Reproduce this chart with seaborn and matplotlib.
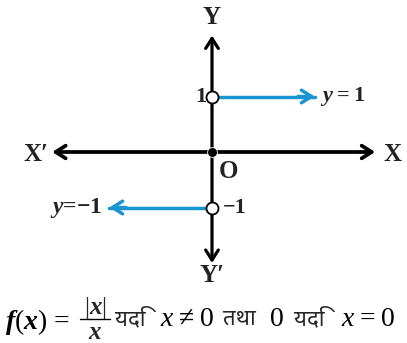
import numpy as np
import pandas as pd
import matplotlib
matplotlib.use("Agg")
import matplotlib.pyplot as plt
import seaborn as sns

# signum function pieces (open circles at x=0)
pos_x = [0, 1.85]
pos_y = [1, 1]
neg_x = [0, -1.85]
neg_y = [-1, -1]
hole_x = [0, 0]
hole_y = [1, -1]
tick_vals = [1, -1]
tick_labels = ["1", "\u22121"]
piece_labels = ["$\\mathbf{y}$\u2009=\u20091", "$\\mathbf{y}$=\u22121"]

sns.set_theme(style="white")
plt.rcParams['font.family'] = ['Liberation Serif', 'DejaVu Serif']
plt.rcParams['mathtext.fontset'] = 'custom'
plt.rcParams['mathtext.rm'] = 'Liberation Serif'
plt.rcParams['mathtext.it'] = 'Liberation Serif:italic'
plt.rcParams['mathtext.bf'] = 'Liberation Serif:bold:italic'

UNIT = 55.5  # pixels per unit


def P(px, py):
    # picture pixel -> data coords
    return (px - 212) / UNIT, (152 - py) / UNIT


blue = "#1996d0"
fig = plt.figure(figsize=(4.07, 3.43), dpi=100)
ax = fig.add_axes([0, 0, 1, 1])
ax.set_xlim(-212 / UNIT, 195 / UNIT)
ax.set_ylim(-191 / UNIT, 152 / UNIT)
ax.axis("off")

# axes with arrows
arrow_k = dict(arrowstyle="->,head_length=0.6,head_width=0.38", color="black", lw=2.7,
               shrinkA=0, shrinkB=0)
ax.annotate("", xy=(2.94, 0), xytext=(0, 0), arrowprops=arrow_k)
ax.annotate("", xy=(-2.88, 0), xytext=(0, 0), arrowprops=arrow_k)
ax.annotate("", xy=(0, 2.1), xytext=(0, 0), arrowprops=dict(arrow_k, lw=2.3))
ax.annotate("", xy=(0, -2.0), xytext=(0, 0), arrowprops=dict(arrow_k, lw=2.3))

# function pieces
df = pd.DataFrame({"x": pos_x + neg_x, "y": pos_y + neg_y,
                   "piece": ["pos", "pos", "neg", "neg"]})
sns.lineplot(data=df, x="x", y="y", units="piece", estimator=None, color=blue,
             lw=2.5, sort=False, ax=ax, legend=False)
blue_k = dict(arrowstyle="->,head_length=0.6,head_width=0.38", color=blue, lw=2.5,
              shrinkA=0, shrinkB=0)
ax.annotate("", xy=(pos_x[1], pos_y[1]), xytext=(pos_x[1] - 0.3, pos_y[1]), arrowprops=blue_k)
ax.annotate("", xy=(neg_x[1], neg_y[1]), xytext=(neg_x[1] + 0.3, neg_y[1]), arrowprops=blue_k)

sns.scatterplot(x=hole_x, y=hole_y, s=75, color="white", edgecolor="black",
                linewidth=1.3, zorder=5, ax=ax)
sns.scatterplot(x=[0], y=[0], s=50, color="black", zorder=5, ax=ax)

tk = dict(fontsize=16, fontweight="bold", color="#222222")
ax.text(-0.1, tick_vals[0], tick_labels[0], ha="right", va="center", **tk)
ax.text(0.2, tick_vals[1], tick_labels[1], ha="left", va="center", **tk)
ax.text(1.95, pos_y[0], piece_labels[0], ha="left", va="center", **tk)
ax.text(-1.98, neg_y[0], piece_labels[1], ha="right", va="center", **dict(tk, fontsize=17))

ak = dict(fontsize=18, fontweight="bold", color="#222222")
ax.text(*P(212, 17), "Y", ha="center", va="center", **ak)
ax.text(*P(212, 275), "Y\u2032", ha="center", va="center", **ak)
ax.text(*P(392, 154), "X", ha="center", va="center", **ak)
ax.text(*P(36, 154), "X\u2032", ha="center", va="center", **ak)
ax.text(*P(229, 171), "O", ha="center", va="center", **ak)

# formula line
fk = dict(fontsize=20, color="black", va="center")
dev = dict(family=['Noto Sans', 'DejaVu Sans'], fontsize=16, va="center", ha="left")
ax.text(*P(5, 322), "$\\mathbf{f}$($\\mathbf{x}$) =", ha="left", **fk)
ax.text(*P(95, 314), "|$\\mathbf{x}$|", ha="center", va="baseline", fontsize=18)
bx0, by = P(80, 319)
bx1, _ = P(110, 319)
ax.plot([bx0, bx1], [by, by], color="black", lw=1.0)
ax.text(*P(95, 339), "$\\mathbf{x}$", ha="center", va="baseline", fontsize=18)
ax.text(*P(115, 319), "यदि", **dev)
ax.text(*P(160, 320), "$\\mathit{x}$\u2009\u2260\u20090", ha="left", **fk)
ax.text(*P(223, 319), "तथा", **dev)
ax.text(*P(270, 320), "0", ha="left", **fk)
ax.text(*P(294, 319), "यदि", **dev)
ax.text(*P(341, 320), "$\\mathit{x}$\u2009=\u20090", ha="left", **fk)

fig.savefig("out.png", dpi=100)
